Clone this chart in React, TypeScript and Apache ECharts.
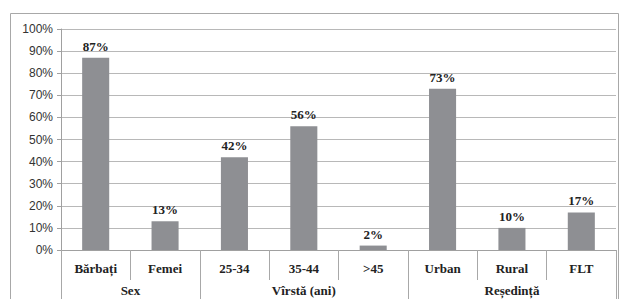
import React, { useEffect, useRef } from "react";
import * as echarts from "echarts";

const categories = ["Bărbați", "Femei", "25-34", "35-44", ">45", "Urban", "Rural", "FLT"];
const values = [87, 13, 42, 56, 2, 73, 10, 17];
const groupLabels = ["Sex", "Vîrstă (ani)", "Reședință"];
const groupCenters = [1, 3.5, 6.5];
const groupBounds = [0, 2, 5, 8];
const yTicks = [0, 10, 20, 30, 40, 50, 60, 70, 80, 90, 100];

export default function App() {
  const ref = useRef<HTMLDivElement>(null);
  useEffect(() => {
    const chart = echarts.init(ref.current!, null, { renderer: "svg" });
    const serif = "'Liberation Serif', 'Times New Roman', serif";
    chart.setOption({
      animation: false,
      backgroundColor: "#ffffff",
      graphic: [
        {
          type: "rect",
          shape: { x: 10.5, y: 13.5, width: 608, height: 300 },
          style: { fill: "none", stroke: "#a8a8a8", lineWidth: 1 },
          silent: true,
        },
      ],
      grid: { left: 61, right: 3, top: 29, bottom: 49 },
      xAxis: [
        {
          type: "category",
          data: categories,
          position: "bottom",
          axisLine: { show: true, lineStyle: { color: "#a0a0a0", width: 1 } },
          axisTick: { show: true, interval: 0, length: 30, lineStyle: { color: "#a8a8a8" } },
          axisLabel: {
            interval: 0,
            margin: 12,
            fontFamily: serif,
            fontWeight: "bold",
            fontSize: 13,
            color: "#222",
          },
        },
        {
          type: "value",
          min: 0,
          max: 8,
          position: "bottom",
          splitLine: { show: false },
          axisLine: { show: false },
          axisTick: {
            show: true,
            customValues: groupBounds,
            length: 60,
            lineStyle: { color: "#a8a8a8" },
          },
          axisLabel: {
            customValues: groupCenters,
            margin: 34,
            fontFamily: serif,
            fontWeight: "bold",
            fontSize: 13,
            color: "#222",
            formatter: (v: number) => {
              const i = groupCenters.indexOf(v);
              return i >= 0 ? groupLabels[i] : "";
            },
          },
        },
      ],
      yAxis: {
        type: "value",
        min: yTicks[0],
        max: yTicks[yTicks.length - 1],
        interval: 10,
        axisLine: { show: true, lineStyle: { color: "#a0a0a0" } },
        axisTick: { show: true, length: 4, lineStyle: { color: "#a0a0a0" } },
        splitLine: { show: true, lineStyle: { color: "#b8b8b8", width: 1 } },
        axisLabel: {
          formatter: "{value}%",
          fontFamily: "'Liberation Sans', Arial, sans-serif",
          fontSize: 12,
          color: "#333",
          margin: 8,
        },
      },
      series: [
        {
          type: "bar",
          data: values,
          xAxisIndex: 0,
          yAxisIndex: 0,
          barWidth: "39%",
          itemStyle: { color: "#8e8f93" },
          label: {
            show: true,
            position: "top",
            distance: 5,
            formatter: "{c}%",
            fontFamily: serif,
            fontWeight: "bold",
            fontSize: 13,
            color: "#222",
          },
        },
      ],
    });
    return () => chart.dispose();
  }, []);
  return (
    <div
      ref={ref}
      style={{ position: "absolute", left: 0, top: 0, width: 619, height: 299 }}
    />
  );
}
